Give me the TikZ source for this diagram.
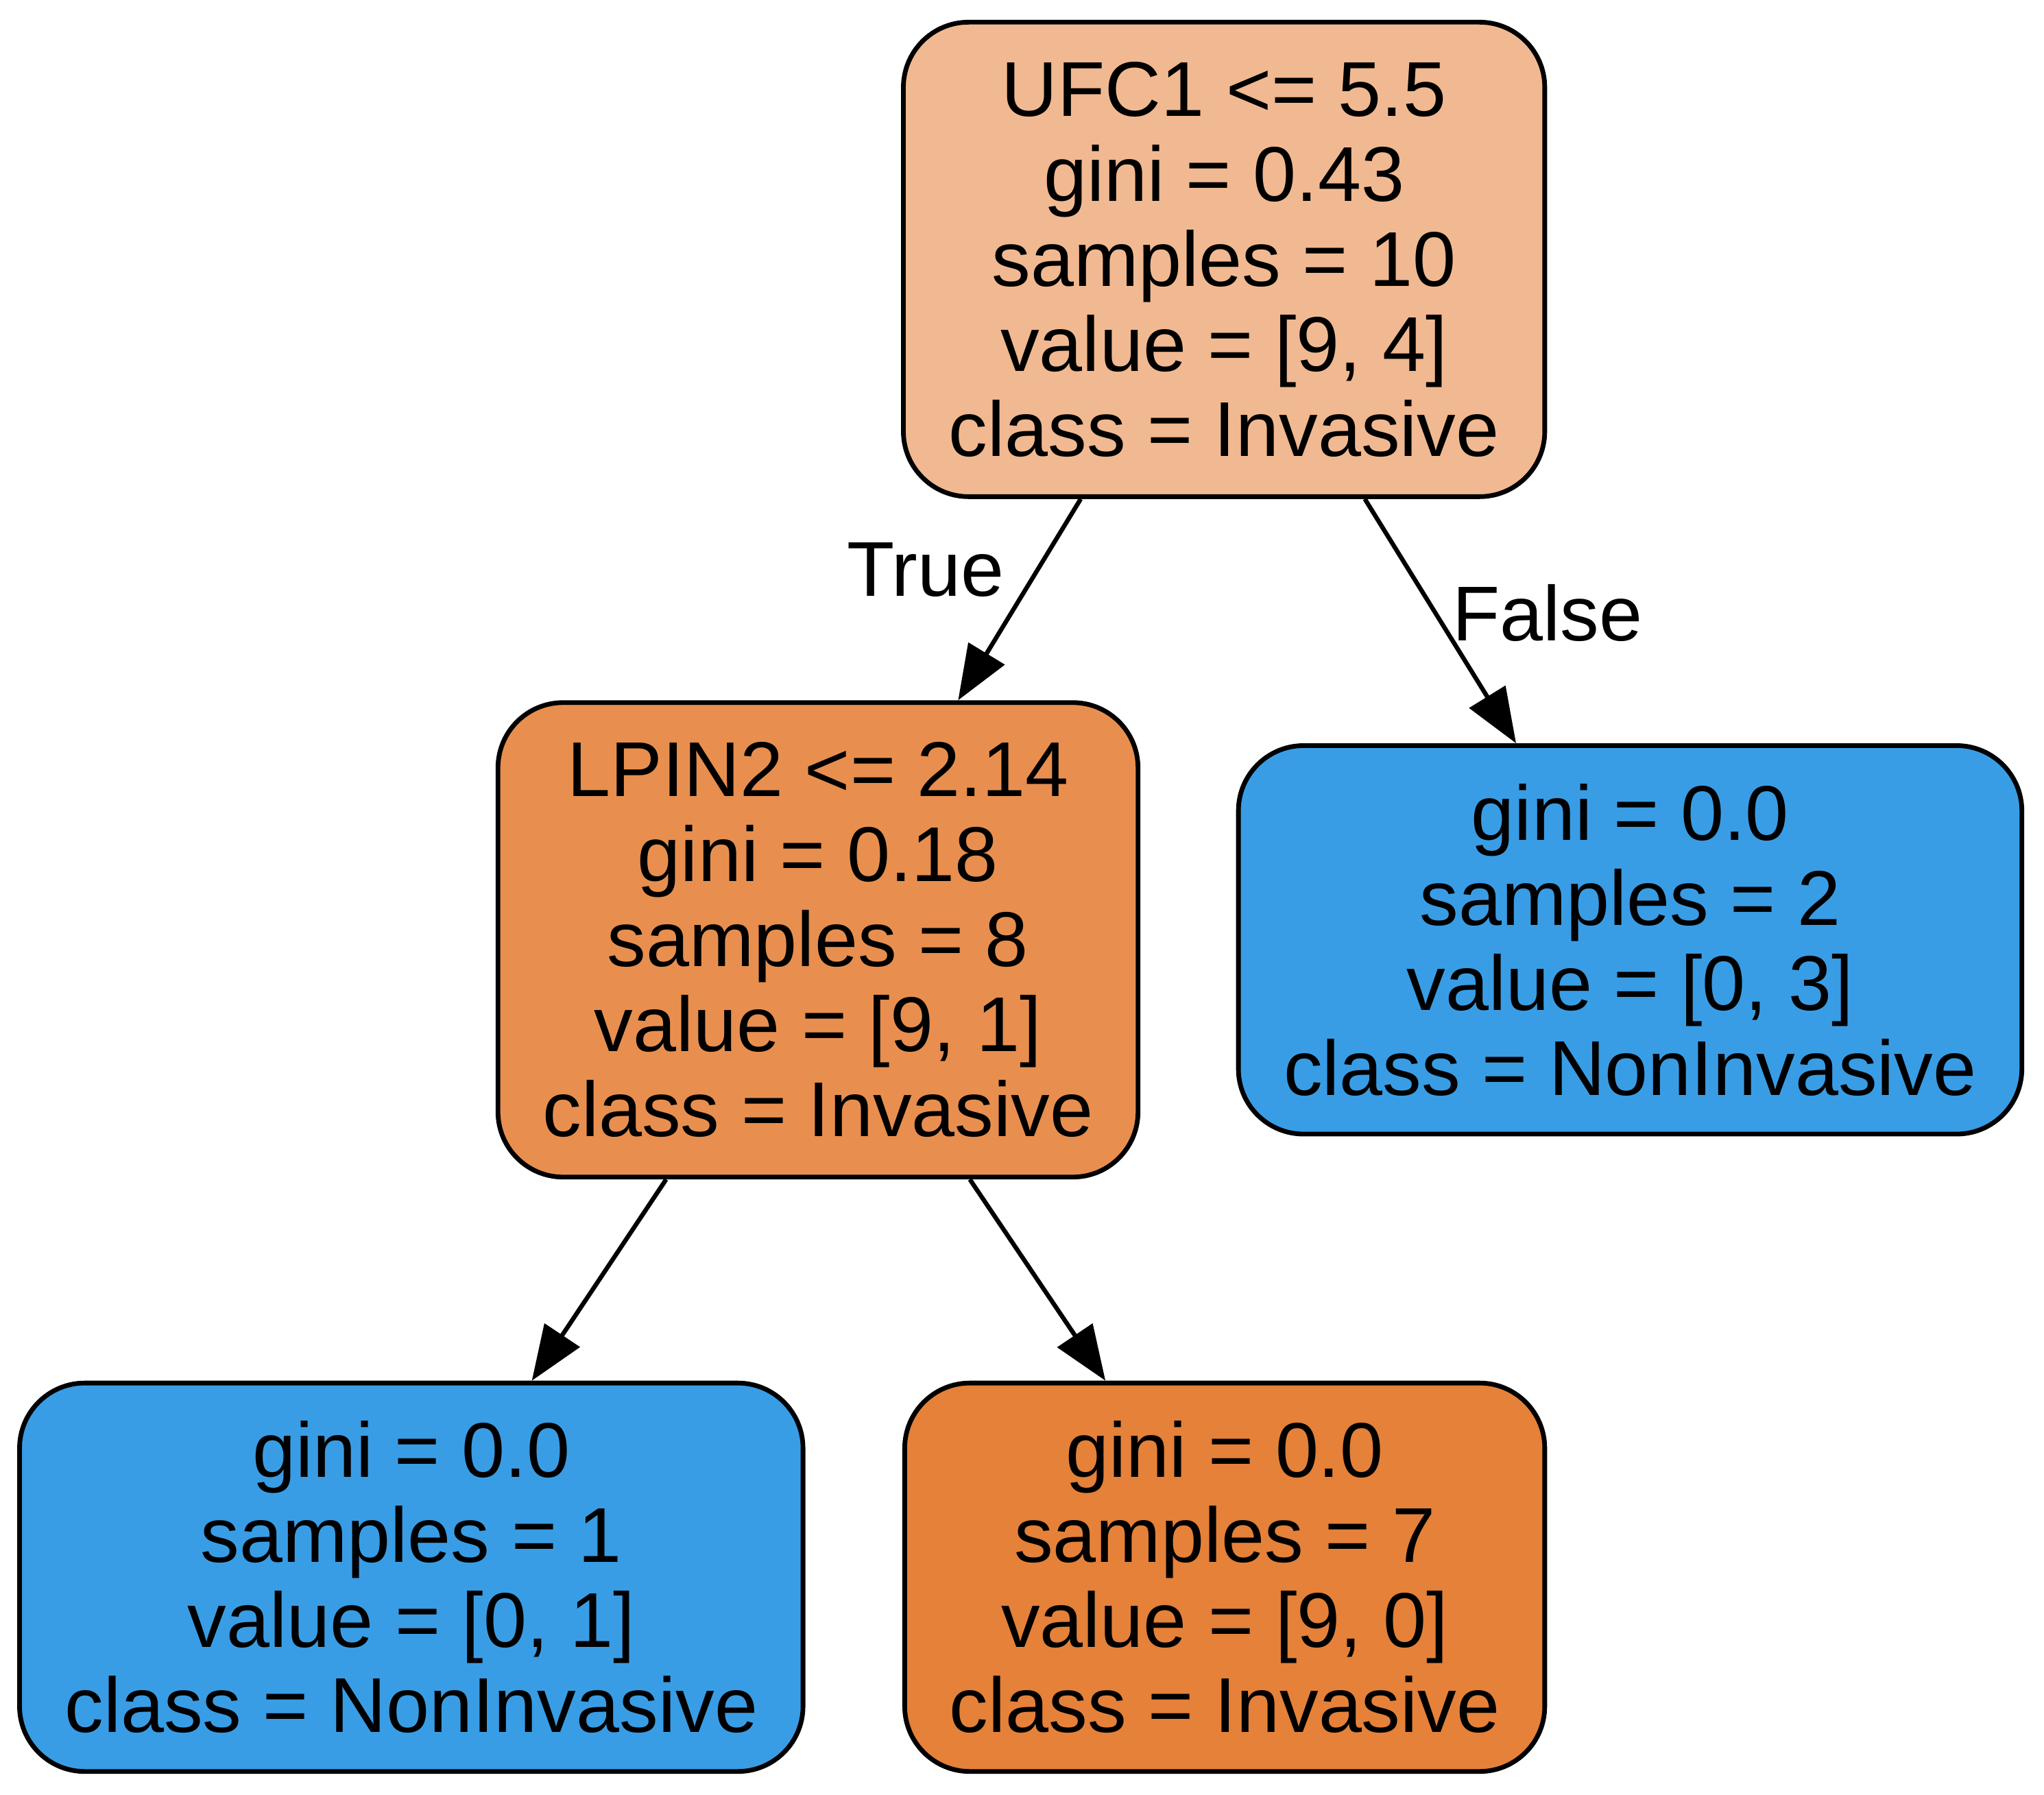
\documentclass[tikz,border=0pt]{standalone}
\usepackage{fontspec}
\setmainfont{Liberation Sans}
\usetikzlibrary{arrows.meta,calc}
\definecolor{splitlight}{HTML}{F1B991}
\definecolor{splitdark}{HTML}{E88F4F}
\definecolor{leafblue}{HTML}{399DE5}
\definecolor{leaforange}{HTML}{E58139}
\begin{document}
\begin{tikzpicture}[x=0.5pt,y=-0.5pt]
	\tikzstyle{every node}+=[inner sep=0pt, font=\fontsize{29.8}{32.6}\selectfont]
	\tikzstyle{treenode}=[draw=black, line width=1.8pt, rounded corners=25pt, align=center]
	\tikzstyle{edge}=[black, line width=1.7pt, -{Triangle[length=21pt,width=16pt]}]
	\useasboundingbox (0,0) rectangle (1568,1377);
	\node [treenode, fill=splitlight, minimum width=246pt, minimum height=182pt] (ufc) at (939,199)
		{UFC1 <= 5.5\\gini = 0.43\\samples = 10\\value = [9, 4]\\class = Invasive};
	\node [treenode, fill=splitdark, minimum width=245.5pt, minimum height=182pt] (lpin) at (627.5,721)
		{LPIN2 <= 2.14\\gini = 0.18\\samples = 8\\value = [9, 1]\\class = Invasive};
	\node [treenode, fill=leafblue, minimum width=300.5pt, minimum height=149pt] (leafr) at (1250.5,721)
		{gini = 0.0\\samples = 2\\value = [0, 3]\\class = NonInvasive};
	\node [treenode, fill=leafblue, minimum width=300.5pt, minimum height=149pt] (leafl) at (315.5,1210)
		{gini = 0.0\\samples = 1\\value = [0, 1]\\class = NonInvasive};
	\node [treenode, fill=leaforange, minimum width=245.5pt, minimum height=149pt] (leafm) at (939.5,1210)
		{gini = 0.0\\samples = 7\\value = [9, 0]\\class = Invasive};
	\draw [edge] ($(ufc.south)+(-110,0)$) -- ($(lpin.north)+(107.5,0)$);
	\node (lbltrue) at (710,437) {True};
	\draw [edge] ($(ufc.south)+(108,0)$) -- ($(leafr.north)+(-87.5,0)$);
	\node (lblfalse) at (1187,470) {False};
	\draw [edge] ($(lpin.south)+(-116.5,0)$) -- ($(leafl.north)+(92.5,0)$);
	\draw [edge] ($(lpin.south)+(116.5,0)$) -- ($(leafm.north)+(-91.5,0)$);
\end{tikzpicture}
\end{document}
